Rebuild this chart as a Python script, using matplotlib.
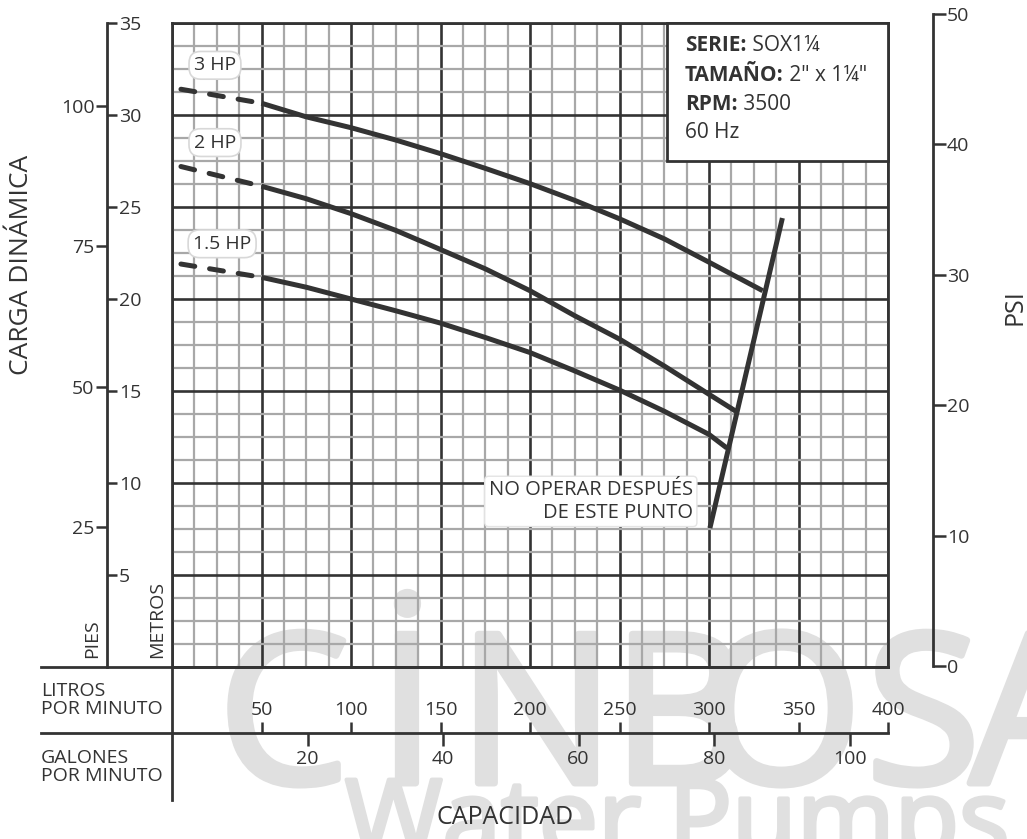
import matplotlib
matplotlib.use('Agg')
import matplotlib.pyplot as plt
from matplotlib.patches import Rectangle
import matplotlib.patheffects as pe

# ---------------- data (LPM, metros) ----------------
lpm_curve = [50, 75, 100, 125, 150, 175, 200, 225, 250, 275, 300]
m_3hp = [30.64, 29.9, 29.31, 28.64, 27.9, 27.1, 26.27, 25.36, 24.36, 23.27, 22.0]
m_2hp = [26.13, 25.45, 24.64, 23.73, 22.69, 21.64, 20.45, 19.09, 17.82, 16.36, 14.82]
m_15hp = [21.18, 20.64, 20.0, 19.36, 18.69, 17.91, 17.09, 16.09, 15.05, 13.9, 12.64]
end_lpm = [330, 315, 310]          # where each curve meets the limit line
end_m = [20.45, 13.9, 11.9]
dash_lpm = [5, 50]
dash_3hp = [31.4, 30.64]
dash_2hp = [27.2, 26.13]
dash_15hp = [21.9, 21.18]
limit_lpm = [300.5, 341]
limit_m = [7.55, 24.4]

hp_labels = ['3 HP', '2 HP', '1.5 HP']
hp_label_lpm = [24, 24, 28]
hp_label_m = [32.7, 28.5, 23.0]

lpm_ticks = [50, 100, 150, 200, 250, 300, 350, 400]
gpm_ticks = [20, 40, 60, 80, 100]
m_ticks = [5, 10, 15, 20, 25, 30, 35]
ft_ticks = [25, 50, 75, 100]
psi_ticks = [0, 10, 20, 30, 40, 50]

LPM_PER_GPM = 3.78541
M_PER_FT = 0.3048

# ---------------- figure ----------------
W, H = 1027, 839
plt.rcParams['font.family'] = ['Open Sans', 'DejaVu Sans']
fig = plt.figure(figsize=(W / 100, H / 100), dpi=100)
DARK = '#333333'
TXT = '#333333'
TS = 14


def add_axes_px(x0, y0, x1, y1):
    return fig.add_axes([x0 / W, 1 - y1 / H, (x1 - x0) / W, (y1 - y0) / H])


def strip(a):
    a.patch.set_visible(False)
    for s in a.spines.values():
        s.set_visible(False)
    a.set_xticks([])
    a.set_yticks([])


# main grid axes
X0, X1, Y0, Y1 = 172, 888, 23, 667
ax = add_axes_px(X0, Y0, X1, Y1)
ax.patch.set_visible(False)
ax.set_xlim(0, 400)
ax.set_ylim(0, 35)
ax.set_xticks([i * 50 for i in range(9)])
ax.set_xticks([i * 12.5 for i in range(33)], minor=True)
ax.set_yticks([i * 5 for i in range(8)])
ax.set_yticks([i * 1.25 for i in range(29)], minor=True)
ax.tick_params(which='both', length=0, labelbottom=False, labelleft=False)
ax.grid(which='minor', color='#a8a8a8', lw=1.6, zorder=0)
ax.grid(which='major', color=DARK, lw=1.9, zorder=1)
ax.set_axisbelow(True)
for s in ax.spines.values():
    s.set_color(DARK)
    s.set_linewidth(2)

lw = 3.6
for ys, xe, ye in zip([m_3hp, m_2hp, m_15hp], end_lpm, end_m):
    ax.plot(lpm_curve + [xe], ys + [ye], color=DARK, lw=lw, solid_capstyle='butt',
            solid_joinstyle='round', zorder=5)
for ys in [dash_3hp, dash_2hp, dash_15hp]:
    ax.plot(dash_lpm, ys, color=DARK, lw=lw, dashes=(2.8, 3.0), dash_capstyle='round', zorder=5)
ax.plot(limit_lpm, limit_m, color=DARK, lw=lw, solid_capstyle='butt', zorder=5)

for t, x, y in zip(hp_labels, hp_label_lpm, hp_label_m):
    ax.text(x, y, t, ha='center', va='center', fontsize=TS, color=TXT, zorder=6,
            bbox=dict(boxstyle='round,pad=0.25,rounding_size=0.6', fc='white', ec='#d8d8d8', lw=1.2))

ax.text(291, 9.0, 'NO OPERAR DESPUÉS\nDE ESTE PUNTO', ha='right', va='center',
        multialignment='right', fontsize=14.5, color=TXT, linespacing=1.15, zorder=6,
        bbox=dict(boxstyle='round,pad=0.2', fc='white', ec='#e4e4e4', lw=1.0))

# info box
bx0 = (667 - X0) / (X1 - X0)
by0 = (Y1 - 161) / (Y1 - Y0)
ax.add_patch(Rectangle((bx0, by0), 1 - bx0, 1 - by0, transform=ax.transAxes,
                       fc='white', ec=DARK, lw=2, zorder=7, clip_on=False))
info = [('SERIE:', ' SOX1¼'), ('TAMAÑO:', ' 2" x 1¼"'), ('RPM:', ' 3500'), ('', '60 Hz')]
ty = [45, 75, 104, 132]
tx = (685 - X0) / (X1 - X0)
for (b, r), yy in zip(info, ty):
    yax = (Y1 - yy) / (Y1 - Y0)
    t = ax.text(tx, yax, b, transform=ax.transAxes, fontsize=15, fontweight='bold',
                color=TXT, ha='left', va='center', zorder=8)
    if b:
        ax.annotate(r, xycoords=t, xy=(1, 0.5), va='center', ha='left', fontsize=15,
                    color=TXT, zorder=8)
    else:
        t.set_text(r)
        t.set_fontweight('normal')

# meters axis (ticks to the right)
axm = add_axes_px(100, Y0, 107, Y1)
strip(axm)
axm.set_ylim(0, 35)
axm.spines['right'].set_visible(True)
axm.spines['right'].set_color(DARK)
axm.spines['right'].set_linewidth(2)
axm.yaxis.tick_right()
axm.set_yticks(m_ticks)
axm.tick_params(axis='y', direction='out', length=7.5, width=1.8, color=DARK,
                pad=1, labelsize=TS, labelcolor=TXT)

# feet axis (ticks to the left)
axf = add_axes_px(107, Y0, 114, Y1)
strip(axf)
axf.set_ylim(0, 35 / M_PER_FT)
axf.set_yticks(ft_ticks)
axf.tick_params(axis='y', direction='out', length=8, width=1.8, color=DARK,
                pad=1, labelsize=TS, labelcolor=TXT)

# bottom scales
lpm_per_px = 400 / (X1 - X0)
lpm_left = -(X0 - 41) * lpm_per_px
axl = add_axes_px(41, Y1, X1, 733)
strip(axl)
axl.set_xlim(lpm_left, 400)
axl.set_ylim(0, 1)
for s in ['top', 'bottom']:
    axl.spines[s].set_visible(True)
    axl.spines[s].set_color(DARK)
    axl.spines[s].set_linewidth(2)
axl.set_xticks(lpm_ticks)
axl.tick_params(axis='x', direction='in', length=8, width=1.8, color=DARK,
                pad=-23, labelsize=TS, labelcolor=TXT)
axl.axvline(0, ymin=-(800 - 733) / (733 - Y1), ymax=1, color=DARK, lw=2, clip_on=False)

axg = add_axes_px(41, Y1, X1, 733)
strip(axg)
axg.set_xlim(lpm_left / LPM_PER_GPM, 400 / LPM_PER_GPM)
axg.set_xticks(gpm_ticks)
axg.tick_params(axis='x', direction='out', length=9, width=1.8, color=DARK,
                pad=3, labelsize=TS, labelcolor=TXT)

# PSI axis
axp = add_axes_px(926, 14, 933, 666)
strip(axp)
axp.set_ylim(0, 50)
axp.spines['right'].set_visible(True)
axp.spines['right'].set_color(DARK)
axp.spines['right'].set_linewidth(2)
axp.yaxis.tick_right()
axp.set_yticks(psi_ticks)
axp.tick_params(axis='y', direction='out', length=9, width=1.8, color=DARK,
                pad=1, labelsize=TS, labelcolor=TXT)

# axis titles
fig.text(22 / W, 1 - 265 / H, 'CARGA DINÁMICA', rotation=90, ha='center', va='center',
         fontsize=19, color=TXT)
fig.text(1015 / W, 1 - 307 / H, 'PSI', rotation=90, ha='center', va='center',
         fontsize=18, color=TXT)
fig.text(92 / W, 1 - 658 / H, 'PIES', rotation=90, ha='center', va='bottom',
         fontsize=TS, color=TXT)
fig.text(157 / W, 1 - 658 / H, 'METROS', rotation=90, ha='center', va='bottom',
         fontsize=TS, color=TXT)
fig.text(41 / W, 1 - 700 / H, 'LITROS\nPOR MINUTO', ha='left', va='center',
         fontsize=TS, color=TXT, linespacing=1.0)
fig.text(41 / W, 1 - 767 / H, 'GALONES\nPOR MINUTO', ha='left', va='center',
         fontsize=TS, color=TXT, linespacing=1.0)
fig.text(505 / W, 1 - 818 / H, 'CAPACIDAD', ha='center', va='center',
         fontsize=18, color=TXT)

# watermark (behind the chart)
WM = '#e0e0e0'
thick = [pe.withStroke(linewidth=5, foreground=WM)]
wm_letters = ['C', 'İ', 'N', 'B', 'O', 'S', 'A']
wm_x = [218, 378, 458, 612, 700, 866, 970]
for ch, xx in zip(wm_letters, wm_x):
    fig.text(xx / W, 1 - 783 / H, ch, ha='left', va='baseline', fontsize=150,
             color=WM, zorder=-1, path_effects=thick)
fig.text(345 / W, 1 - 855 / H, 'Water Pumps', ha='left', va='baseline', fontsize=76,
         color=WM, zorder=-1, path_effects=[pe.withStroke(linewidth=3, foreground=WM)])

fig.savefig('out.png', dpi=100, facecolor='white')
